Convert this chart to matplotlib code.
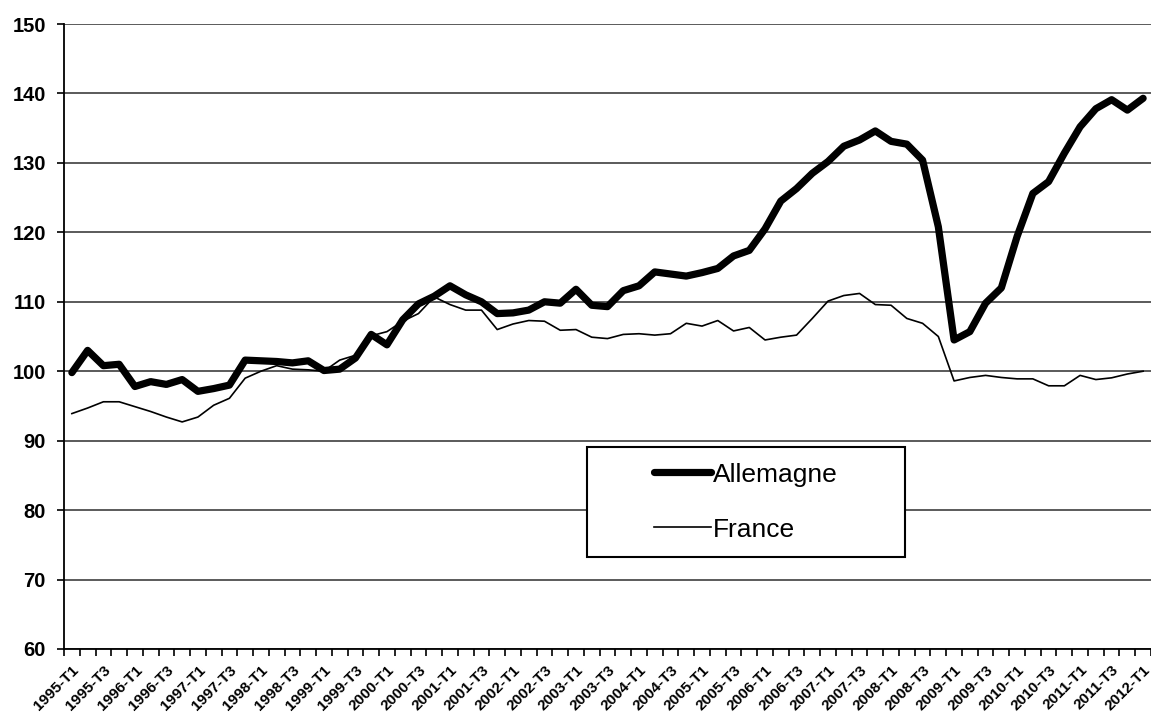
import matplotlib
matplotlib.use("Agg")
import matplotlib.pyplot as plt
from matplotlib.patches import Rectangle

# Quarterly labels 1995-T1 .. 2012-T1
years = list(range(1995, 2013))
quarters = [f"{y}-T{q}" for y in years for q in (1, 2, 3, 4)][:69]

allemagne = [
    99.8, 103.0, 100.8, 101.0, 97.8, 98.5, 98.1, 98.8, 97.1, 97.5,
    98.0, 101.6, 101.5, 101.4, 101.2, 101.5, 100.1, 100.3, 101.9, 105.3,
    103.8, 107.4, 109.7, 110.8, 112.3, 111.0, 110.0, 108.3, 108.4, 108.8,
    110.0, 109.8, 111.8, 109.5, 109.3, 111.6, 112.3, 114.3, 114.0, 113.7,
    114.2, 114.8, 116.6, 117.4, 120.5, 124.5, 126.3, 128.5, 130.2, 132.4,
    133.3, 134.6, 133.1, 132.7, 130.4, 120.8, 104.5, 105.7, 109.8, 112.0,
    119.4, 125.6, 127.3, 131.4, 135.2, 137.8, 139.1, 137.6, 139.3,
]
france = [
    93.9, 94.7, 95.6, 95.6, 94.9, 94.2, 93.4, 92.7, 93.4, 95.1,
    96.1, 99.0, 100.0, 100.8, 100.3, 100.2, 100.0, 101.6, 102.3, 105.1,
    105.7, 107.2, 108.3, 110.7, 109.6, 108.8, 108.8, 106.0, 106.8, 107.3,
    107.2, 105.9, 106.0, 104.9, 104.7, 105.3, 105.4, 105.2, 105.4, 106.9,
    106.5, 107.3, 105.8, 106.3, 104.5, 104.9, 105.2, 107.6, 110.1, 110.9,
    111.2, 109.6, 109.5, 107.6, 106.9, 105.0, 98.6, 99.1, 99.4, 99.1,
    98.9, 98.9, 97.9, 97.9, 99.4, 98.8, 99.05, 99.6, 100.0,
]
series_labels = ["Allemagne", "France"]
y_ticks = list(range(60, 151, 10))

plt.rcParams['font.family'] = ['Liberation Sans', 'DejaVu Sans']

fig = plt.figure(figsize=(11.51, 7.2), dpi=100)
ax = fig.add_axes([64 / 1151, (720 - 649) / 720, 1087 / 1151, 625 / 720])

x = list(range(len(quarters)))
ax.plot(x, allemagne, color='black', lw=5.2, solid_joinstyle='round',
        solid_capstyle='round', label=series_labels[0], zorder=4)
ax.plot(x, france, color='black', lw=1.2, label=series_labels[1], zorder=4)

ax.set_xlim(-0.5, len(quarters) - 0.5)
ax.set_ylim(60, 150)

# y axis
ax.set_yticks(y_ticks)
ax.set_yticklabels([str(v) for v in y_ticks], fontsize=14.5, fontweight='bold')
ax.tick_params(axis='y', direction='out', length=5, width=1.2, pad=8, color='black')
ax.yaxis.grid(True, color='#5a5a5a', lw=1.4)
ax.set_axisbelow(True)

# x axis
major = x[::2]
ax.set_xticks(major)
ax.set_xticklabels([quarters[i] for i in major], rotation=45, ha='right',
                   rotation_mode='anchor', fontsize=11, fontweight='bold')
ax.set_xticks([i - 0.5 for i in range(len(quarters) + 1)], minor=True)
ax.tick_params(axis='x', which='major', length=0, pad=10)
ax.tick_params(axis='x', which='minor', direction='out', length=5, width=1.2, color='black')

for s in ('top', 'right'):
    ax.spines[s].set_visible(False)
ax.spines['left'].set_color('black')
ax.spines['left'].set_linewidth(1.3)
ax.spines['bottom'].set_color('black')
ax.spines['bottom'].set_linewidth(1.3)

# legend box
bx0, by0, bw, bh = 0.481, 0.147, 0.2925, 0.176
ax.add_patch(Rectangle((bx0, by0), bw, bh, transform=ax.transAxes,
                       facecolor='white', edgecolor='black', lw=1.5, zorder=5))
leg = ax.legend(loc='center', bbox_to_anchor=(bx0 + bw / 2, by0 + bh / 2),
                frameon=False, fontsize=19, handlelength=2.15,
                handletextpad=0.05, labelspacing=1.18)
leg.set_zorder(6)

fig.savefig('out.png', dpi=100)
